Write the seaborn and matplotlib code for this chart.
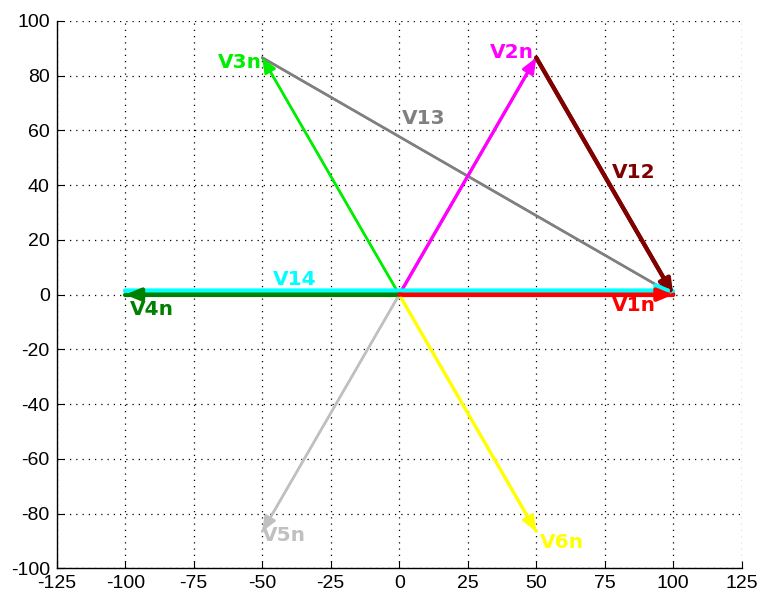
import matplotlib
matplotlib.use("Agg")
import matplotlib.pyplot as plt
import seaborn as sns
import pandas as pd

# Phase-to-neutral phasor tips (six-phase system, magnitude 100)
phase_names = ["V1n", "V2n", "V3n", "V4n", "V5n", "V6n"]
phase_x = [100.0, 50.0, -50.0, -100.0, -50.0, 50.0]
phase_y = [0.0, 86.6, 86.6, 0.0, -86.6, -86.6]
phase_colors = ["#ff0000", "#ff00ff", "#00ee00", "#008000", "#c0c0c0", "#ffff00"]
phase_widths = [3.0, 2.2, 1.8, 3.0, 1.8, 2.2]

# Line-to-line phasors (start point -> end point)
line_names = ["V12", "V13", "V14"]
line_x0 = [50.0, -50.0, -100.0]
line_y0 = [86.6, 86.6, 1.5]
line_x1 = [100.0, 100.0, 100.0]
line_y1 = [0.0, 0.0, 1.5]
line_colors = ["#800000", "#808080", "#00ffff"]
line_widths = [3.0, 1.8, 3.0]

# Label anchors (left edge, vertical centre)
label_names = ["V1n", "V2n", "V3n", "V4n", "V5n", "V6n", "V12", "V13", "V14"]
label_x = [77.6, 33.0, -66.2, -98.3, -50.1, 51.3, 77.6, 1.0, -46.1]
label_y = [-4.1, 88.3, 85.0, -5.6, -88.2, -90.4, 44.8, 64.2, 5.7]
label_colors = ["#ff0000", "#ff00ff", "#00ee00", "#008000", "#c0c0c0",
                "#ffff00", "#800000", "#808080", "#00ffff"]

x_ticks = [-125, -100, -75, -50, -25, 0, 25, 50, 75, 100, 125]
y_ticks = [-100, -80, -60, -40, -20, 0, 20, 40, 60, 80, 100]

sns.set_theme(style="white", rc={
    "axes.edgecolor": "black",
    "axes.linewidth": 1.0,
    "xtick.direction": "in",
    "ytick.direction": "in",
    "xtick.bottom": True,
    "ytick.left": True,
    "xtick.major.size": 5,
    "ytick.major.size": 5,
    "xtick.major.width": 0.8,
    "ytick.major.width": 0.8,
    "xtick.color": "black",
    "ytick.color": "black",
})
plt.rcParams["font.family"] = ["Liberation Sans", "DejaVu Sans"]

fig = plt.figure(figsize=(7.57, 5.99), dpi=100, facecolor="white")
ax = fig.add_axes([0.0749, 0.0513, 0.905, 0.9137])
ax.set_facecolor("white")

# Build one table of segments, drawn as shafts via seaborn
rows = []
for i, n in enumerate(phase_names):
    rows.append({"seg": n, "x": 0.0, "y": 0.0, "order": 0})
    rows.append({"seg": n, "x": phase_x[i], "y": phase_y[i], "order": 1})
for i, n in enumerate(line_names):
    rows.append({"seg": n, "x": line_x0[i], "y": line_y0[i], "order": 0})
    rows.append({"seg": n, "x": line_x1[i], "y": line_y1[i], "order": 1})
segments = pd.DataFrame(rows)

seg_color = dict(zip(phase_names + line_names, phase_colors + line_colors))
seg_width = dict(zip(phase_names + line_names, phase_widths + line_widths))

draw_order = ["V13", "V5n", "V6n", "V3n", "V2n", "V12", "V14", "V4n", "V1n"]
for n in draw_order:
    d = segments[segments["seg"] == n]
    sns.lineplot(data=d, x="x", y="y", sort=False, estimator=None,
                 color=seg_color[n], linewidth=seg_width[n], ax=ax,
                 legend=False, zorder=3)
    p0 = d.iloc[0]
    p1 = d.iloc[1]
    ax.annotate("", xy=(p1["x"], p1["y"]), xytext=(p0["x"], p0["y"]),
                arrowprops=dict(arrowstyle="-|>,head_length=0.6,head_width=0.25",
                                color=seg_color[n], lw=seg_width[n],
                                mutation_scale=15, shrinkA=0, shrinkB=0),
                zorder=4)

for t, x, y, c in zip(label_names, label_x, label_y, label_colors):
    ax.text(x, y, t, color=c, fontsize=14.5, fontweight="bold",
            family=["DejaVu Sans"], ha="left", va="center", zorder=5)

ax.set_xlim(-125, 125)
ax.set_ylim(-100, 100)
ax.set_xticks(x_ticks)
ax.set_yticks(y_ticks)
ax.set_xticklabels([str(v) for v in x_ticks])
ax.set_yticklabels([str(v) for v in y_ticks])
ax.tick_params(axis="both", labelsize=14, pad=5)
ax.set_xlabel("")
ax.set_ylabel("")

ax.grid(True, color="black", linestyle=(0, (1, 4)), linewidth=0.9)
ax.set_axisbelow(True)
ax.spines["top"].set_visible(False)
ax.spines["right"].set_visible(False)

fig.savefig("out.png", dpi=100, facecolor="white")
